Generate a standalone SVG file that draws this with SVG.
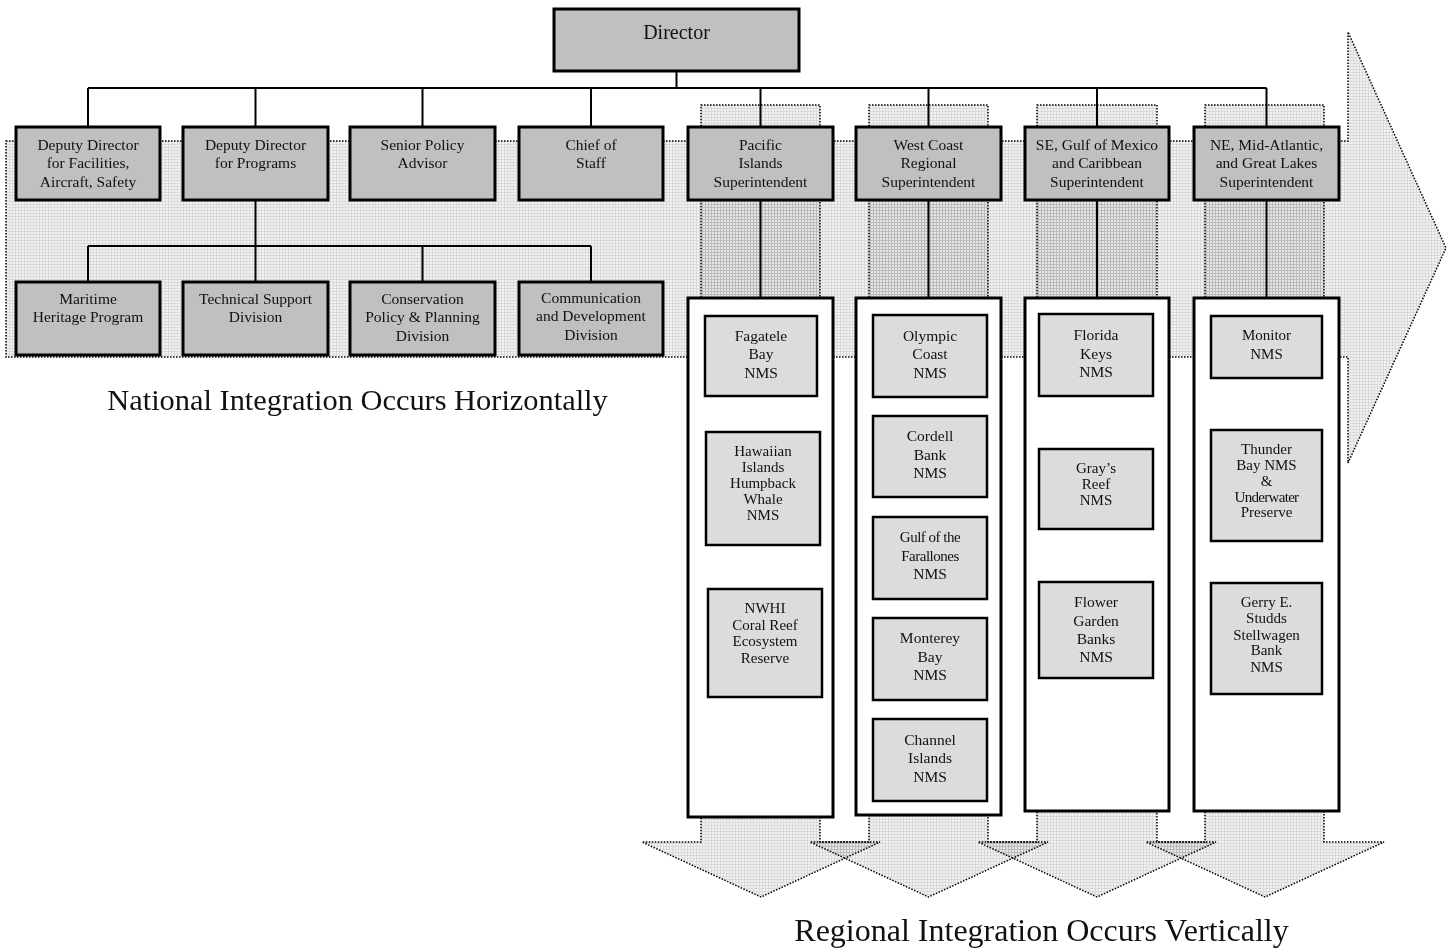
<svg xmlns="http://www.w3.org/2000/svg" width="1455" height="949" viewBox="0 0 1455 949">
<defs>
<pattern id="grid" width="3" height="3" patternUnits="userSpaceOnUse">
<rect width="3" height="3" fill="#f3f3f3"/>
<path d="M0 0.5H3M0.5 0V3" stroke="#dadada" stroke-width="1"/>
</pattern>
</defs>
<style>
.bg{fill:url(#grid);stroke:#000;stroke-width:1.5;stroke-dasharray:1.5 1.5}
.col{mix-blend-mode:multiply}
.box{fill:#c0c0c0;stroke:#000;stroke-width:3}
.cont{fill:#fff;stroke:#000;stroke-width:3}
.nms{fill:#dcdcdc;stroke:#000;stroke-width:2.5}
.ln{fill:none;stroke:#000;stroke-width:2}
text{font-family:"Liberation Serif","Times New Roman",serif;fill:#111;text-anchor:middle}
.t{font-size:15.5px}
.s{font-size:15px}
</style>
<g id="background-arrows">
<polygon class="bg" points="6,141 1348,141 1348,32 1446,248 1348,463 1348,357 6,357"/>
<polygon class="bg col" points="701,105 820,105 820,842 880,842 761,897 642,842 701,842"/>
<polygon class="bg col" points="869,105 988,105 988,842 1048,842 928.5,897 810,842 869,842"/>
<polygon class="bg col" points="1037,105 1157,105 1157,842 1216,842 1097,897 978,842 1037,842"/>
<polygon class="bg col" points="1205,105 1324,105 1324,842 1384,842 1265,897 1146,842 1205,842"/>
</g>
<g id="connectors">
<path class="ln" d="M676.5 71V88M88 88H1266.5M88 88V127M255.5 88V127M422.5 88V127M591 88V127M760.5 88V127M928.5 88V127M1097 88V127M1266.5 88V127"/>
<path class="ln" d="M255.5 200V246M88 246H591M88 246V282M255.5 246V282M422.5 246V282M591 246V282"/>
<path class="ln" d="M760.5 200V298M928.5 200V298M1097 200V298M1266.5 200V298"/>
</g>
<g id="director"><rect class="box" x="554" y="9" width="245" height="62"/><text x="676.5" y="39" style="font-size:20px">Director</text></g>
<g id="dd-facilities"><rect class="box" x="16" y="127" width="144" height="73"/><text class="t" x="88" y="149.5">Deputy Director</text><text class="t" x="88" y="168">for Facilities,</text><text class="t" x="88" y="186.5">Aircraft, Safety</text></g>
<g id="dd-programs"><rect class="box" x="183" y="127" width="145" height="73"/><text class="t" x="255.5" y="149.5">Deputy Director</text><text class="t" x="255.5" y="168">for Programs</text></g>
<g id="senior-policy"><rect class="box" x="350" y="127" width="145" height="73"/><text class="t" x="422.5" y="149.5">Senior Policy</text><text class="t" x="422.5" y="168">Advisor</text></g>
<g id="chief-of-staff"><rect class="box" x="519" y="127" width="144" height="73"/><text class="t" x="591" y="149.5">Chief of</text><text class="t" x="591" y="168">Staff</text></g>
<g id="pacific-islands"><rect class="box" x="688" y="127" width="145" height="73"/><text class="t" x="760.5" y="149.5">Pacific</text><text class="t" x="760.5" y="168">Islands</text><text class="t" x="760.5" y="186.5">Superintendent</text></g>
<g id="west-coast"><rect class="box" x="856" y="127" width="145" height="73"/><text class="t" x="928.5" y="149.5">West Coast</text><text class="t" x="928.5" y="168">Regional</text><text class="t" x="928.5" y="186.5">Superintendent</text></g>
<g id="se-gulf"><rect class="box" x="1025" y="127" width="144" height="73"/><text class="t" x="1097" y="149.5">SE, Gulf of Mexico</text><text class="t" x="1097" y="168">and Caribbean</text><text class="t" x="1097" y="186.5">Superintendent</text></g>
<g id="ne-mid-atlantic"><rect class="box" x="1194" y="127" width="145" height="73"/><text class="t" x="1266.5" y="149.5">NE, Mid-Atlantic,</text><text class="t" x="1266.5" y="168">and Great Lakes</text><text class="t" x="1266.5" y="186.5">Superintendent</text></g>
<g id="maritime-heritage"><rect class="box" x="16" y="282" width="144" height="73"/><text class="t" x="88" y="303.5">Maritime</text><text class="t" x="88" y="322">Heritage Program</text></g>
<g id="technical-support"><rect class="box" x="183" y="282" width="145" height="73"/><text class="t" x="255.5" y="303.5">Technical Support</text><text class="t" x="255.5" y="322">Division</text></g>
<g id="conservation-policy"><rect class="box" x="350" y="282" width="145" height="73"/><text class="t" x="422.5" y="303.5">Conservation</text><text class="t" x="422.5" y="322">Policy &amp; Planning</text><text class="t" x="422.5" y="340.5">Division</text></g>
<g id="communication"><rect class="box" x="519" y="282" width="144" height="73"/><text class="t" x="591" y="302.5">Communication</text><text class="t" x="591" y="321">and Development</text><text class="t" x="591" y="339.5">Division</text></g>
<g id="pacific-sites"><rect class="cont" x="688" y="298" width="145" height="519"/>
<rect class="nms" x="705" y="316" width="112" height="80"/><text class="t" x="761" y="341">Fagatele</text><text class="t" x="761" y="359">Bay</text><text class="t" x="761" y="378">NMS</text>
<rect class="nms" x="706" y="432" width="114" height="113"/><text class="s" x="763" y="456">Hawaiian</text><text class="s" x="763" y="472">Islands</text><text class="s" x="763" y="488">Humpback</text><text class="s" x="763" y="504">Whale</text><text class="s" x="763" y="520">NMS</text>
<rect class="nms" x="708" y="589" width="114" height="108"/><text class="s" x="765" y="613">NWHI</text><text class="s" x="765" y="629.5">Coral Reef</text><text class="s" x="765" y="646">Ecosystem</text><text class="s" x="765" y="662.5">Reserve</text>
</g>
<g id="west-coast-sites"><rect class="cont" x="856" y="298" width="145" height="517"/>
<rect class="nms" x="873" y="315" width="114" height="82"/><text class="t" x="930" y="341">Olympic</text><text class="t" x="930" y="359">Coast</text><text class="t" x="930" y="378">NMS</text>
<rect class="nms" x="873" y="416" width="114" height="81"/><text class="t" x="930" y="441">Cordell</text><text class="t" x="930" y="460">Bank</text><text class="t" x="930" y="478">NMS</text>
<rect class="nms" x="873" y="517" width="114" height="82"/><text class="s" x="930" y="542" letter-spacing="-0.5">Gulf of the</text><text class="s" x="930" y="561" letter-spacing="-0.5">Farallones</text><text class="t" x="930" y="579">NMS</text>
<rect class="nms" x="873" y="618" width="114" height="82"/><text class="t" x="930" y="643">Monterey</text><text class="t" x="930" y="662">Bay</text><text class="t" x="930" y="680">NMS</text>
<rect class="nms" x="873" y="719" width="114" height="82"/><text class="t" x="930" y="745">Channel</text><text class="t" x="930" y="763">Islands</text><text class="t" x="930" y="782">NMS</text>
</g>
<g id="southeast-sites"><rect class="cont" x="1025" y="298" width="144" height="513"/>
<rect class="nms" x="1039" y="314" width="114" height="82"/><text class="t" x="1096" y="340">Florida</text><text class="t" x="1096" y="359">Keys</text><text class="t" x="1096" y="377">NMS</text>
<rect class="nms" x="1039" y="449" width="114" height="80"/><text class="s" x="1096" y="473">Gray’s</text><text class="s" x="1096" y="488.5">Reef</text><text class="s" x="1096" y="505">NMS</text>
<rect class="nms" x="1039" y="582" width="114" height="96"/><text class="t" x="1096" y="607">Flower</text><text class="t" x="1096" y="626">Garden</text><text class="t" x="1096" y="644">Banks</text><text class="t" x="1096" y="662">NMS</text>
</g>
<g id="northeast-sites"><rect class="cont" x="1194" y="298" width="145" height="513"/>
<rect class="nms" x="1211" y="316" width="111" height="62"/><text class="s" x="1266.5" y="340">Monitor</text><text class="s" x="1266.5" y="358.5">NMS</text>
<rect class="nms" x="1211" y="430" width="111" height="111"/><text class="s" x="1266.5" y="454">Thunder</text><text class="s" x="1266.5" y="470">Bay NMS</text><text class="s" x="1266.5" y="486">&amp;</text><text class="s" x="1266.5" y="502" letter-spacing="-0.7">Underwater</text><text class="s" x="1266.5" y="517">Preserve</text>
<rect class="nms" x="1211" y="583" width="111" height="111"/><text class="s" x="1266.5" y="607">Gerry E.</text><text class="s" x="1266.5" y="623">Studds</text><text class="s" x="1266.5" y="639.5">Stellwagen</text><text class="s" x="1266.5" y="655">Bank</text><text class="s" x="1266.5" y="671.5">NMS</text>
</g>
<g id="labels">
<text x="357.5" y="410" style="font-size:30.4px">National Integration Occurs Horizontally</text>
<text x="1041.5" y="941" style="font-size:32px">Regional Integration Occurs Vertically</text>
</g>
</svg>
